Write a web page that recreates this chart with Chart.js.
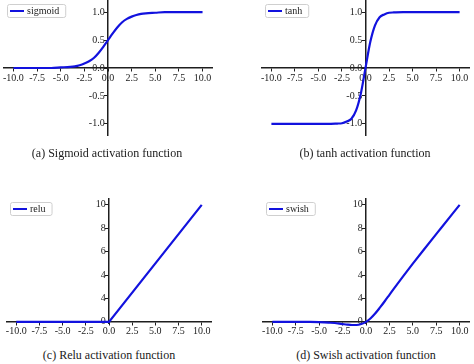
<!DOCTYPE html>
<html>
<head>
<meta charset="utf-8">
<script src="https://cdn.jsdelivr.net/npm/chart.js@4"></script>
<style>
  html, body { margin:0; padding:0; background:#fff; width:474px; height:364px; overflow:hidden; position:relative; }
  canvas { position:absolute; }
  .cap { position:absolute; font-family:"Liberation Serif","Times New Roman",serif; font-size:12px; color:#1a1a1a; white-space:nowrap; transform:translate(-50%,-50%); }
</style>
</head>
<body>
<canvas id="ca"></canvas>
<canvas id="cb"></canvas>
<canvas id="cc"></canvas>
<canvas id="cd"></canvas>
<div class="cap" id="capA"></div>
<div class="cap" id="capB"></div>
<div class="cap" id="capC"></div>
<div class="cap" id="capD"></div>
<script>
// ---- data ----
const xTickValues = [-10, -7.5, -5, -2.5, 0, 2.5, 5, 7.5, 10];
const xTickLabels = ['-10.0', '-7.5', '-5.0', '-2.5', '0.0', '2.5', '5.0', '7.5', '10.0'];
const yTickValuesTop = [-1, -0.5, 0, 0.5, 1];
const yTickLabelsTop = ['-1.0', '-0.5', '0.0', '0.5', '1.0'];
const yTickValuesBottom = [0, 2, 4, 6, 8, 10];
const yTickLabelsBottom = ['0', '4', '4', '6', '8', '10'];

const captions = ['(a) Sigmoid activation function', '(b) tanh activation function', '(c) Relu activation function', '(d) Swish activation function'];
const seriesNames = ['sigmoid', 'tanh', 'relu', 'swish'];

const sigmoidX = [-10, -8, -6, -5, -4, -3.5, -3, -2.5, -2, -1.5, -1, -0.5, 0, 0.5, 1, 1.5, 2, 2.5, 3, 3.5, 4, 5, 6, 8, 10];
const sigmoidY = [0.00, 0.00, 0.00, 0.01, 0.02, 0.03, 0.05, 0.08, 0.12, 0.18, 0.27, 0.38, 0.50, 0.62, 0.73, 0.82, 0.88, 0.92, 0.95, 0.97, 0.98, 0.99, 1.00, 1.00, 1.00];

const tanhX = [-10, -4, -3, -2.5, -2, -1.5, -1, -0.5, 0, 0.5, 1, 1.5, 2, 2.5, 3, 4, 10];
const tanhY = [-1.00, -1.00, -0.995, -0.99, -0.96, -0.91, -0.76, -0.46, 0.00, 0.46, 0.76, 0.91, 0.96, 0.99, 0.995, 1.00, 1.00];

const reluX = [-10, 0, 10];
const reluY = [0, 0, 10];

const swishX = [-10, -8, -7, -6, -5, -4, -3, -2.5, -2, -1.5, -1, -0.5, 0, 0.5, 1, 1.5, 2, 2.5, 3, 4, 5, 6, 8, 10];
const swishY = [0.00, 0.00, -0.01, -0.01, -0.03, -0.07, -0.14, -0.19, -0.24, -0.27, -0.27, -0.19, 0.00, 0.31, 0.73, 1.23, 1.76, 2.31, 2.86, 3.93, 4.97, 5.99, 8.00, 10.00];

// ---- styling / layout ----
const FONT = '"Liberation Serif", "Times New Roman", serif';
const LINE = 'rgb(18,18,222)';
const AXIS = '#1e1e1e';
const PAD = 14;

const legendPlugin = {
  id: 'boxLegend',
  afterDatasetsDraw(chart) {
    const ctx = chart.ctx;
    const ds = chart.data.datasets[0];
    const a = chart.chartArea;
    ctx.save();
    ctx.font = '10px ' + FONT;
    const tw = ctx.measureText(ds.label).width;
    const x0 = a.left + 3, y0 = a.top + 3;
    const w = tw + 26, h = 13;
    ctx.fillStyle = 'rgba(255,255,255,0.85)';
    ctx.strokeStyle = '#cfcfcf';
    ctx.lineWidth = 1;
    ctx.beginPath();
    if (ctx.roundRect) ctx.roundRect(x0 + 0.5, y0 + 0.5, w, h, 2); else ctx.rect(x0 + 0.5, y0 + 0.5, w, h);
    ctx.fill(); ctx.stroke();
    ctx.strokeStyle = ds.borderColor;
    ctx.lineWidth = 2;
    ctx.beginPath();
    ctx.moveTo(x0 + 3, y0 + 7);
    ctx.lineTo(x0 + 17, y0 + 7);
    ctx.stroke();
    ctx.fillStyle = '#222';
    ctx.textBaseline = 'middle';
    ctx.textAlign = 'left';
    ctx.fillText(ds.label, x0 + 20, y0 + 7.5);
    ctx.restore();
  }
};

function axisCommon(values, labels) {
  return {
    type: 'linear',
    afterBuildTicks: s => { s.ticks = values.map(v => ({ value: v })); },
    ticks: {
      callback: v => { const i = values.indexOf(v); return i >= 0 ? labels[i] : ''; },
      font: { family: FONT, size: 10 },
      color: '#222',
      padding: 1,
      autoSkip: false,
      maxRotation: 0
    },
    grid: { drawOnChartArea: false, drawTicks: true, tickLength: 3, tickWidth: 1, tickColor: AXIS },
    border: { display: true, color: AXIS, width: 1.5 }
  };
}

function makeChart(id, area, name, xs, ys, yMin, yMax, yVals, yLabs, smooth) {
  const cv = document.getElementById(id);
  const w = area.right - area.left + 2 * PAD;
  const h = area.bottom - area.top + 2 * PAD;
  cv.width = w; cv.height = h;
  cv.style.left = (area.left - PAD) + 'px';
  cv.style.top = (area.top - PAD) + 'px';
  cv.style.width = w + 'px'; cv.style.height = h + 'px';
  const xAxis = axisCommon(xTickValues, xTickLabels);
  xAxis.min = -11; xAxis.max = 11; xAxis.position = { y: 0 };
  const yAxis = axisCommon(yVals, yLabs);
  yAxis.min = yMin; yAxis.max = yMax; yAxis.position = { x: 0 };
  yAxis.ticks.callback = v => { const i = yVals.indexOf(v); return i >= 0 ? yLabs[i] + '\u2004' : ''; };
  return new Chart(cv, {
    type: 'line',
    data: {
      datasets: [{
        label: name,
        data: xs.map((x, i) => ({ x: x, y: ys[i] })),
        borderColor: LINE,
        borderWidth: 2.2,
        pointRadius: 0,
        fill: false,
        clip: false,
        cubicInterpolationMode: smooth ? 'monotone' : 'default',
        tension: 0
      }]
    },
    options: {
      responsive: false,
      animation: false,
      devicePixelRatio: 1,
      layout: { padding: PAD },
      plugins: { legend: { display: false }, tooltip: { enabled: false } },
      scales: { x: xAxis, y: yAxis }
    },
    plugins: [legendPlugin]
  });
}

makeChart('ca', { left: 4, right: 212, top: 1, bottom: 135 }, seriesNames[0], sigmoidX, sigmoidY, -1.2, 1.2, yTickValuesTop, yTickLabelsTop, true);
makeChart('cb', { left: 262, right: 469, top: 1, bottom: 135 }, seriesNames[1], tanhX, tanhY, -1.2, 1.2, yTickValuesTop, yTickLabelsTop, true);
makeChart('cc', { left: 7, right: 211, top: 199, bottom: 323 }, seriesNames[2], reluX, reluY, -0.1, 10.5, yTickValuesBottom, yTickLabelsBottom, false);
makeChart('cd', { left: 263, right: 469, top: 199, bottom: 323 }, seriesNames[3], swishX, swishY, -0.1, 10.5, yTickValuesBottom, yTickLabelsBottom, true);

const capPos = [[107, 153], [365, 153], [109, 355], [366, 355]];
['capA', 'capB', 'capC', 'capD'].forEach((id, i) => {
  const el = document.getElementById(id);
  el.textContent = captions[i];
  el.style.left = capPos[i][0] + 'px';
  el.style.top = capPos[i][1] + 'px';
});
</script>
</body>
</html>
